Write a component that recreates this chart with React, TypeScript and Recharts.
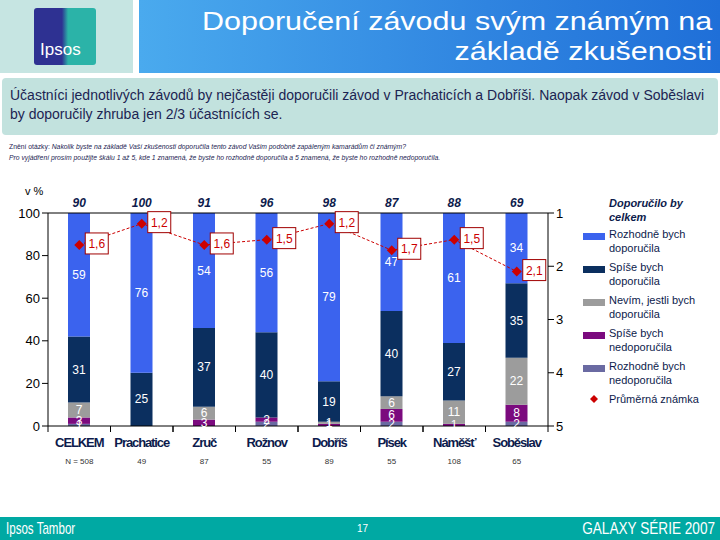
import React from "react";
import {
  ComposedChart,
  Bar,
  Line,
  XAxis,
  YAxis,
  LabelList,
} from "recharts";

const categories = ["CELKEM", "Prachatice", "Zruč", "Rožnov", "Dobříš", "Písek", "Náměšť", "Soběslav"];
const sampleN = ["N = 508", "49", "87", "55", "89", "55", "108", "65"];
const rozhodneDop = [59, 76, 54, 56, 79, 47, 61, 34];
const spiseDop = [31, 25, 37, 40, 19, 40, 27, 35];
const nevim = [7, 0, 6, 0, 1, 6, 11, 22];
const spiseNedop = [3, 0, 3, 2, 1, 6, 1, 8];
const rozhodneNedop = [1, 0, 0, 2, 0, 2, 0, 2];
const celkem = [90, 100, 91, 96, 98, 87, 88, 69];
const prumer = [1.6, 1.2, 1.6, 1.5, 1.2, 1.7, 1.5, 2.1];

const leftTicks = [0, 20, 40, 60, 80, 100];
const rightTicks = [1, 2, 3, 4, 5];

const data = categories.map((name, i) => ({
  name,
  n: sampleN[i],
  rd: rozhodneDop[i],
  sd: spiseDop[i],
  nv: nevim[i],
  sn: spiseNedop[i],
  rn: rozhodneNedop[i],
  total: celkem[i],
  avg: prumer[i],
}));

const C = {
  blue: "#3b63ee",
  navy: "#0b2f5f",
  gray: "#9c9c9c",
  purple: "#7b0a7e",
  slate: "#6a6aa2",
  red: "#cc0000",
  text: "#0d1b4c",
};

const font = "'Liberation Sans', Arial, sans-serif";
const half = 31.25;

const BottomTick = (props: any) => {
  const { x, y, payload, index } = props;
  return (
    <g>
      <line x1={x - half} x2={x - half} y1={y} y2={y + 6} stroke="#000" />
      <line x1={x + half} x2={x + half} y1={y} y2={y + 6} stroke="#000" />
      <text
        x={x}
        y={y + 21}
        textAnchor="middle"
        fontFamily={font}
        fontSize={13}
        fontWeight={700}
        letterSpacing={-1.1}
        fill={C.text}
      >
        {payload.value}
      </text>
      <text x={x} y={y + 38} textAnchor="middle" fontFamily={font} fontSize={8} fill="#333">
        {sampleN[index]}
      </text>
    </g>
  );
};

const TopTick = (props: any) => {
  const { x, y, index } = props;
  return (
    <text
      x={x}
      y={y - 6}
      textAnchor="middle"
      fontFamily={font}
      fontSize={12}
      fontWeight={700}
      fontStyle="italic"
      fill={C.text}
    >
      {celkem[index]}
    </text>
  );
};

const segLabel = (props: any) => {
  const { x, y, width, height, value } = props;
  if (!value) return null;
  return (
    <text
      x={x + width / 2}
      y={y + height / 2 + 4}
      textAnchor="middle"
      fontFamily={font}
      fontSize={12}
      fill="#fff"
    >
      {value}
    </text>
  );
};

const avgLabel = (props: any) => {
  const { x, y, value } = props;
  const txt = String(value).replace(".", ",");
  return (
    <g>
      <rect x={x + 6} y={y - 12} width={23} height={21} fill="#fff" stroke="#a00000" strokeWidth={1} />
      <text x={x + 17.5} y={y + 3} textAnchor="middle" fontFamily={font} fontSize={12} fill={C.red}>
        {txt}
      </text>
    </g>
  );
};

const Diamond = (props: any) => {
  const { cx, cy } = props;
  if (cx == null || cy == null) return null;
  return <path d={`M${cx},${cy - 5}L${cx + 5},${cy}L${cx},${cy + 5}L${cx - 5},${cy}Z`} fill={C.red} />;
};

const legendItems = [
  { color: C.blue, label: ["Rozhodně bych", "doporučila"] },
  { color: C.navy, label: ["Spíše bych", "doporučila"] },
  { color: C.gray, label: ["Nevím, jestli bych", "doporučila"] },
  { color: C.purple, label: ["Spíše bych", "nedoporučila"] },
  { color: C.slate, label: ["Rozhodně bych", "nedoporučila"] },
];

export default function App() {
  return (
    <div
      style={{
        position: "absolute",
        left: 0,
        top: 0,
        width: 720,
        height: 540,
        background: "#fff",
        fontFamily: font,
        overflow: "hidden",
      }}
    >
      {/* hlavička */}
      <div style={{ position: "absolute", left: 0, top: 0, width: 133, height: 73, background: "#c6e5e2" }} />
      <div
        style={{
          position: "absolute",
          left: 34,
          top: 8,
          width: 62,
          height: 57,
          borderRadius: 3,
          background: "linear-gradient(90deg, #2e3192 0%, #2e3192 45%, #2bb3a8 55%, #2bb3a8 100%)",
        }}
      >
        <div style={{ position: "absolute", left: 6, top: 32, color: "#fff", fontSize: 17 }}>Ipsos</div>
      </div>
      <div
        style={{
          position: "absolute",
          left: 139,
          top: 0,
          width: 581,
          height: 73,
          background: "linear-gradient(90deg, #4aaaee 0%, #2f84e0 60%, #1f6fd8 100%)",
        }}
      >
        <div
          style={{
            position: "absolute",
            right: 8,
            top: 6,
            color: "#fff",
            fontSize: 25,
            lineHeight: "30px",
            textAlign: "right",
            whiteSpace: "nowrap",
            transform: "scaleX(1.22)",
            transformOrigin: "right center",
          }}
        >
          Doporučení závodu svým známým na
          <br />
          základě zkušenosti
        </div>
      </div>

      <div
        style={{
          position: "absolute",
          left: 2,
          top: 78,
          width: 716,
          height: 57,
          background: "#c2e2de",
          borderRadius: 4,
          color: "#1c2452",
          fontSize: 14,
          lineHeight: "19px",
        }}
      >
        <div style={{ position: "absolute", left: 8, top: 8, whiteSpace: "nowrap" }}>
          Účastníci jednotlivých závodů by nejčastěji doporučili závod v Prachaticích a Dobříši. Naopak závod v Soběslavi
          <br />
          by doporučily zhruba jen 2/3 účastnících se.
        </div>
      </div>

      <div
        style={{
          position: "absolute",
          left: 9,
          top: 141,
          color: "#1c2452",
          fontSize: 6.8,
          lineHeight: "11px",
          whiteSpace: "nowrap",
        }}
      >
        <span>Znění otázky: </span>
        <i>Nakolik byste na základě Vaší zkušenosti doporučila tento závod Vašim podobně zapáleným kamarádům či známým?</i>
        <br />
        <i>
          Pro vyjádření prosím použijte škálu 1 až 5, kde 1 znamená, že byste ho rozhodně doporučila a 5 znamená, že byste ho
          rozhodně nedoporučila.
        </i>
      </div>

      <div style={{ position: "absolute", left: 25, top: 185, fontSize: 11, color: "#000" }}>v %</div>

      {/* graf */}
      <div style={{ position: "absolute", left: 0, top: 185 }}>
        <ComposedChart
          width={580}
          height={300}
          data={data}
          margin={{ top: 8, left: 8, right: 2, bottom: 14 }}
          barSize={22}
        >
          <XAxis
            dataKey="name"
            xAxisId="top"
            orientation="top"
            height={20}
            tickLine={false}
            tickSize={0}
            tickMargin={0}
            axisLine={{ stroke: "#000" }}
            tick={<TopTick />}
            interval={0}
          />
          <XAxis
            dataKey="name"
            height={45}
            tickLine={false}
            tickSize={0}
            tickMargin={0}
            axisLine={{ stroke: "#000" }}
            tick={<BottomTick />}
            interval={0}
          />
          <YAxis
            yAxisId="left"
            width={40}
            domain={[0, 100]}
            ticks={leftTicks}
            allowDataOverflow
            axisLine={{ stroke: "#000" }}
            tickLine={{ stroke: "#000" }}
            tick={{ fill: "#000", fontSize: 13, fontFamily: font }}
          />
          <YAxis
            yAxisId="right"
            orientation="right"
            width={30}
            domain={[1, 5]}
            ticks={rightTicks}
            reversed
            axisLine={{ stroke: "#000" }}
            tickLine={{ stroke: "#000" }}
            tick={{ fill: "#000", fontSize: 13, fontFamily: font }}
          />
          <Bar dataKey="rn" stackId="s" yAxisId="left" fill={C.slate} isAnimationActive={false}>
            <LabelList dataKey="rn" content={segLabel} />
          </Bar>
          <Bar dataKey="sn" stackId="s" yAxisId="left" fill={C.purple} isAnimationActive={false}>
            <LabelList dataKey="sn" content={segLabel} />
          </Bar>
          <Bar dataKey="nv" stackId="s" yAxisId="left" fill={C.gray} isAnimationActive={false}>
            <LabelList dataKey="nv" content={segLabel} />
          </Bar>
          <Bar dataKey="sd" stackId="s" yAxisId="left" fill={C.navy} isAnimationActive={false}>
            <LabelList dataKey="sd" content={segLabel} />
          </Bar>
          <Bar dataKey="rd" stackId="s" yAxisId="left" fill={C.blue} isAnimationActive={false}>
            <LabelList dataKey="rd" content={segLabel} />
          </Bar>
          <Line
            dataKey="avg"
            yAxisId="right"
            stroke={C.red}
            strokeWidth={1}
            strokeDasharray="3 2"
            dot={<Diamond />}
            activeDot={false}
            isAnimationActive={false}
          >
            <LabelList dataKey="avg" content={avgLabel} />
          </Line>
        </ComposedChart>
      </div>

      {/* legenda */}
      <div style={{ position: "absolute", left: 583, top: 196, width: 137, fontSize: 11, color: C.text }}>
        <div style={{ marginLeft: 26, fontWeight: 700, fontStyle: "italic", lineHeight: "14px" }}>
          Doporučilo by
          <br />
          celkem
        </div>
        {legendItems.map((it) => (
          <div key={it.color} style={{ position: "relative", height: 33, marginTop: 0 }}>
            <div style={{ position: "absolute", left: 0, top: 9, width: 22, height: 7, background: it.color }} />
            <div style={{ position: "absolute", left: 26, top: 3, lineHeight: "14px", whiteSpace: "nowrap" }}>
              {it.label[0]}
              <br />
              {it.label[1]}
            </div>
          </div>
        ))}
        <div style={{ position: "relative", height: 20 }}>
          <svg width={22} height={14} style={{ position: "absolute", left: 0, top: 3 }}>
            <path d="M11,3L15,7L11,11L7,7Z" fill={C.red} />
          </svg>
          <div style={{ position: "absolute", left: 26, top: 3, lineHeight: "14px", whiteSpace: "nowrap" }}>
            Průměrná známka
          </div>
        </div>
      </div>

      {/* patička */}
      <div style={{ position: "absolute", left: 0, top: 517, width: 720, height: 23, background: "#00a9a3", color: "#fff" }}>
        <div
          style={{
            position: "absolute",
            left: 6,
            top: 2,
            fontSize: 17,
            whiteSpace: "nowrap",
            transform: "scaleX(0.68)",
            transformOrigin: "left center",
          }}
        >
          Ipsos Tambor
        </div>
        <div style={{ position: "absolute", left: 357, top: 6, fontSize: 10 }}>17</div>
        <div
          style={{
            position: "absolute",
            right: 5,
            top: 2,
            fontSize: 17,
            whiteSpace: "nowrap",
            transform: "scaleX(0.8)",
            transformOrigin: "right center",
          }}
        >
          GALAXY SÉRIE 2007
        </div>
      </div>
    </div>
  );
}
